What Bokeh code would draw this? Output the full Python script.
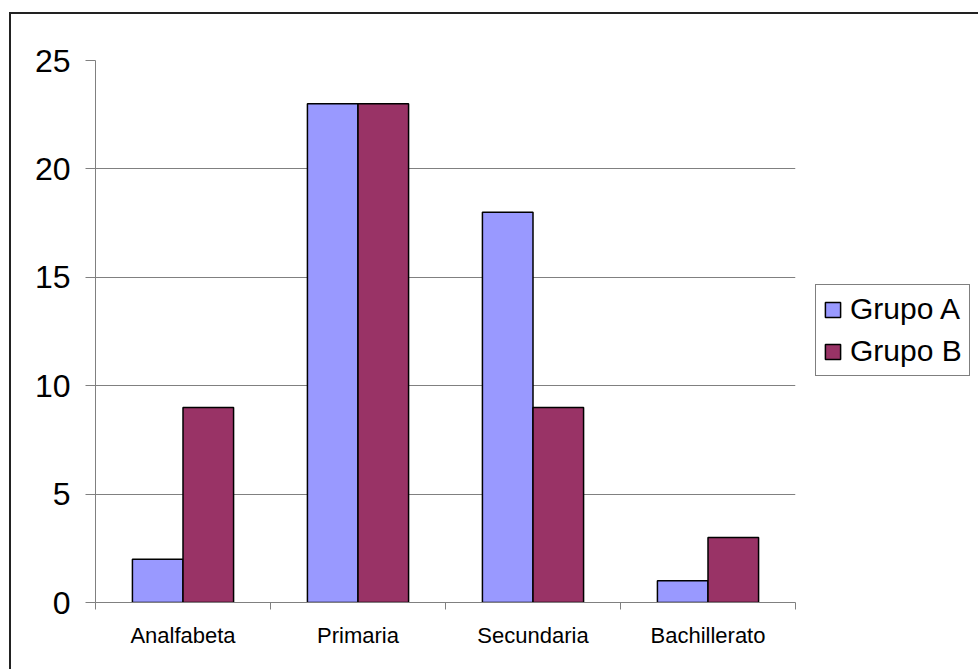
from bokeh.plotting import figure
from bokeh.models import ColumnDataSource, Range1d, FixedTicker, Legend, LegendItem
from bokeh.transform import dodge
from bokeh.embed import file_html
from bokeh.resources import INLINE

categories = ["Analfabeta", "Primaria", "Secundaria", "Bachillerato"]
grupo_a = [2, 23, 18, 1]
grupo_b = [9, 23, 9, 3]
y_ticks = [0, 5, 10, 15, 20, 25]
series_names = ["Grupo A", "Grupo B"]

FONT = "Liberation Sans"
centers = [i + 0.5 for i in range(len(categories))]
bounds = list(range(len(categories) + 1))

source = ColumnDataSource(dict(x=centers, a=grupo_a, b=grupo_b))

p = figure(frame_width=700, frame_height=542, output_backend="svg", toolbar_location=None,
           x_range=Range1d(0, len(categories)), y_range=Range1d(0, 25),
           min_border_left=84, min_border_right=176, min_border_top=46, min_border_bottom=67)
p.margin = (12, 0, 0, 9)
p.styles = {"border-left": "2px solid #222", "border-top": "2px solid #222"}
p.outline_line_color = None
p.background_fill_color = "white"
p.border_fill_color = "white"

bw = 0.289
ra = p.vbar(x=dodge("x", -bw / 2), top="a", width=bw, source=source,
            fill_color="#9999FF", line_color="black", line_width=1.5)
rb = p.vbar(x=dodge("x", bw / 2), top="b", width=bw, source=source,
            fill_color="#993366", line_color="black", line_width=1.5)

xa = p.xaxis[0]
xa.ticker = FixedTicker(ticks=centers, minor_ticks=bounds)
xa.major_label_overrides = {c: n for c, n in zip(centers, categories)}
xa.major_tick_line_color = None
xa.major_tick_out = 0
xa.major_tick_in = 0
xa.minor_tick_out = 7
xa.minor_tick_in = 0
xa.minor_tick_line_color = "#808080"
xa.axis_line_color = "#808080"
xa.major_label_text_font = FONT
xa.major_label_text_font_size = "22px"
xa.major_label_text_color = "black"
xa.major_label_standoff = 13

ya = p.yaxis[0]
ya.ticker = FixedTicker(ticks=y_ticks, minor_ticks=[])
ya.major_tick_out = 10
ya.major_tick_in = 0
ya.major_tick_line_color = "#808080"
ya.axis_line_color = "#808080"
ya.major_label_text_font = FONT
ya.major_label_text_font_size = "32px"
ya.major_label_text_color = "black"
ya.major_label_standoff = 15

p.xgrid.visible = False
p.ygrid.ticker = FixedTicker(ticks=y_ticks)
p.ygrid.grid_line_color = "#808080"

legend = Legend(items=[LegendItem(label=series_names[0], renderers=[ra]),
                       LegendItem(label=series_names[1], renderers=[rb])],
                location=(20, 226), orientation="vertical",
                label_text_font=FONT, label_text_font_size="30px", label_text_color="black",
                glyph_width=19, glyph_height=19, label_standoff=8,
                spacing=8, padding=7, margin=0,
                border_line_color="black", border_line_width=1,
                background_fill_color="white", background_fill_alpha=1)
p.add_layout(legend, "right")

open("out.html", "w").write(file_html(p, INLINE))
